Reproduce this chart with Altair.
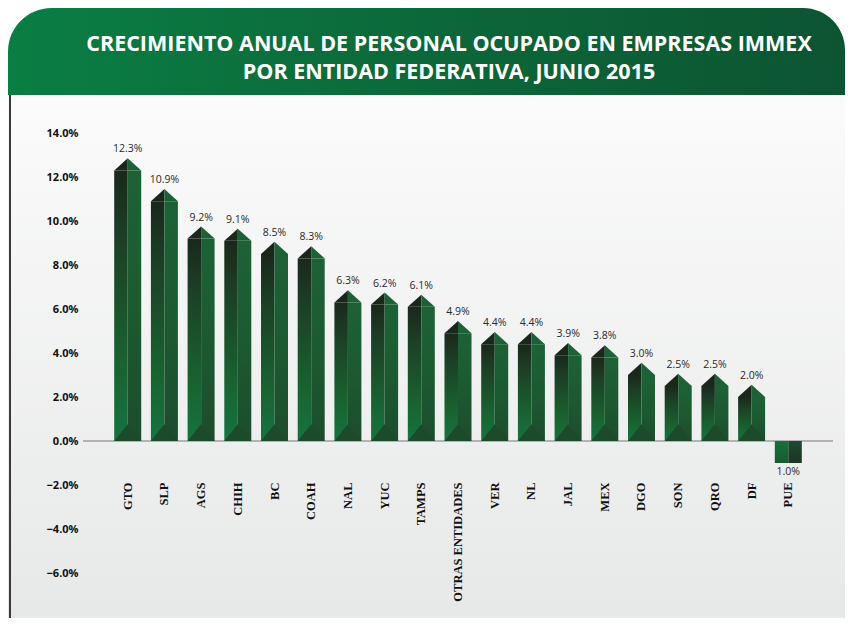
import altair as alt
import pandas as pd

# ---- data ----
states = ["GTO", "SLP", "AGS", "CHIH", "BC", "COAH", "NAL", "YUC", "TAMPS",
          "OTRAS ENTIDADES", "VER", "NL", "JAL", "MEX", "DGO", "SON", "QRO", "DF", "PUE"]
values = [12.3, 10.9, 9.2, 9.1, 8.5, 8.3, 6.3, 6.2, 6.1,
          4.9, 4.4, 4.4, 3.9, 3.8, 3.0, 2.5, 2.5, 2.0, -1.0]
y_ticks = [-6, -4, -2, 0, 2, 4, 6, 8, 10, 12, 14]
title_lines = ["CRECIMIENTO ANUAL DE PERSONAL OCUPADO EN EMPRESAS IMMEX",
               "POR ENTIDAD FEDERATIVA, JUNIO 2015"]

df = pd.DataFrame({"state": states, "v": values})
one = pd.DataFrame({"a": [0]})

W, H = 750, 495
PL, PT, PR, PB = 75, 103, 12, 12

base = alt.Chart(df).transform_calculate(
    lbl="format(abs(datum.v), '.1f') + '%'"
)

x_enc = alt.X(
    "state:N", sort=states,
    scale=alt.Scale(paddingInner=0.264, paddingOuter=0.85),
    axis=alt.Axis(title=None, labelAngle=270, offset=-124, labelPadding=0,
                  domain=False, ticks=False, labelFont="Liberation Serif",
                  labelFontWeight="bold", labelFontSize=12.5, labelColor="#111111",
                  labelAlign="right", labelBaseline="middle", labelOverlap=False,
                  zindex=2),
)
y_enc = alt.Y(
    "v:Q", scale=alt.Scale(domain=[-7.5, 15], nice=False, zero=False),
    axis=alt.Axis(title=None, values=y_ticks,
                  labelExpr="format(datum.value, '.1f') + '%'",
                  grid=False, domain=False, ticks=False, labelPadding=5,
                  labelFont="Open Sans", labelFontWeight="bold", labelFontSize=11,
                  labelColor="#111111", zindex=2),
)

# ---- background / header ----
panel = alt.Chart(one).mark_rect(
    color=alt.Gradient(gradient="linear",
                       stops=[alt.GradientStop(color="#fbfbfb", offset=0),
                              alt.GradientStop(color="#e7e8e8", offset=1)],
                       x1=0, x2=0, y1=0, y2=1)
).encode(x=alt.value(-PL), x2=alt.value(W + PR), y=alt.value(-16), y2=alt.value(H + PB))

header = alt.Chart(one).mark_rect(
    cornerRadiusTopLeft=48, cornerRadiusTopRight=42,
    color=alt.Gradient(gradient="linear",
                       stops=[alt.GradientStop(color="#0a7e44", offset=0),
                              alt.GradientStop(color="#0c6639", offset=0.55),
                              alt.GradientStop(color="#0d5432", offset=1)],
                       x1=0, x2=1, y1=0, y2=0)
).encode(x=alt.value(-PL), x2=alt.value(W + PR), y=alt.value(-PT), y2=alt.value(-16))

border = alt.Chart(one).mark_rule(color="#3a3a3a", strokeWidth=2).encode(
    x=alt.value(-PL + 2), y=alt.value(-16), y2=alt.value(H + PB))

title = alt.Chart(one).mark_text(
    text="\n".join(title_lines), lineBreak="\n", lineHeight=28,
    font="Open Sans", fontWeight="bold", fontSize=21.5, color="white",
    align="center", baseline="middle"
).encode(x=alt.value(366), y=alt.value(-66))

zero = alt.Chart(one).mark_rule(color="#b3b3b3", strokeWidth=2).encode(y=alt.datum(0))


def grad(stops):
    return alt.Gradient(gradient="linear",
                        stops=[alt.GradientStop(color=c, offset=o) for c, o in stops],
                        x1=0, x2=0, y1=0, y2=1)


left_grad = grad([("#1a281b", 0), ("#1c3f26", 0.25), ("#19622f", 0.7), ("#157440", 1)])
right_grad = grad([("#1d6236", 0), ("#1c5a31", 0.5), ("#1d4c2d", 1)])
neg_left = grad([("#16723b", 0), ("#1a5a31", 1)])
neg_right = grad([("#1e4a2c", 0), ("#1c3524", 1)])

pos = base.transform_filter("datum.v > 0")
neg = base.transform_filter("datum.v < 0")

# ---- bars (two faces) ----
bar_l = pos.mark_bar(width=13.5, xOffset=-6.75, color=left_grad).encode(
    x=x_enc, y=y_enc, y2=alt.datum(0))
bar_r = pos.mark_bar(width=13.5, xOffset=6.75, color=right_grad).encode(
    x=x_enc, y=y_enc, y2=alt.datum(0))
nbar_l = neg.mark_bar(width=13.5, xOffset=-6.75, color=neg_left).encode(
    x=x_enc, y=y_enc, y2=alt.datum(0))
nbar_r = neg.mark_bar(width=13.5, xOffset=6.75, color=neg_right).encode(
    x=x_enc, y=y_enc, y2=alt.datum(0))

top_l = pos.mark_point(shape="M-1,0L0,-0.9L0,0Z", size=729, filled=True,
                       color="#1a281b", opacity=1, strokeWidth=0).encode(x=x_enc, y=y_enc)
top_r = pos.mark_point(shape="M0,0L0,-0.9L1,0Z", size=729, filled=True,
                       color="#1d6236", opacity=1, strokeWidth=0).encode(x=x_enc, y=y_enc)
bot = pos.mark_point(shape="M-1,0L0,-1.25L1,0Z", size=729, filled=True,
                     color="#1d4a2b", opacity=1, strokeWidth=0).encode(x=x_enc, y=alt.datum(0))

lab_pos = pos.mark_text(font="Open Sans", fontSize=10.5, color="#2a2a2a",
                        baseline="middle", dy=-21).encode(x=x_enc, y=y_enc, text="lbl:N")
lab_neg = neg.mark_text(font="Open Sans", fontSize=10.5, color="#2a2a2a",
                        baseline="middle", dy=9).encode(x=x_enc, y=y_enc, text="lbl:N")

chart = alt.layer(
    panel, header, border, title, zero, bar_l, bar_r, nbar_l, nbar_r, bot, top_l, top_r,
    lab_pos, lab_neg
).properties(
    width=W, height=H,
    autosize=alt.AutoSizeParams(type="none"),
    padding={"left": PL, "top": PT, "right": PR, "bottom": PB},
    background="white",
).configure_view(stroke=None)

chart.save("out.html", embed_options={"renderer": "svg", "actions": False})
